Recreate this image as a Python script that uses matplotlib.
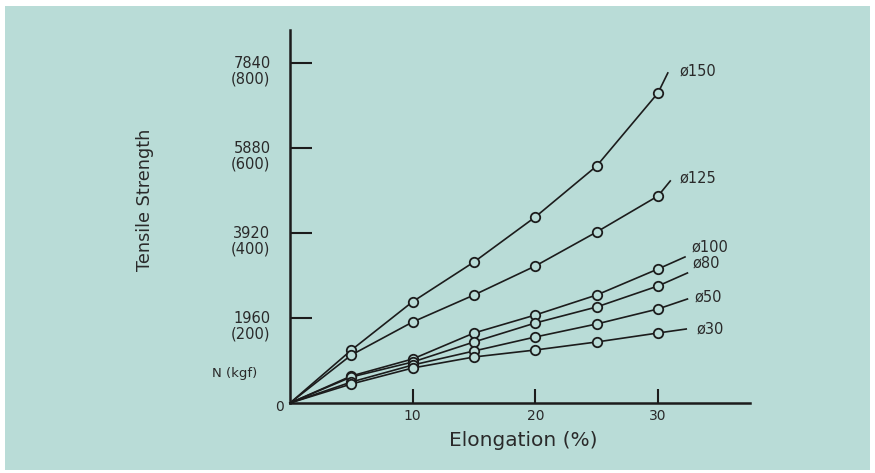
import matplotlib
matplotlib.use('Agg')
import matplotlib.pyplot as plt
from matplotlib.patches import Rectangle
from matplotlib.transforms import ScaledTranslation

# ---- data ----
elongation = [5, 10, 15, 20, 25, 30]          # % where markers sit
series_names = ['ø150', 'ø125', 'ø100', 'ø80', 'ø50', 'ø30']
d150 = [1220, 2336, 3251, 4289, 5465, 7149]
d125 = [1107, 1868, 2490, 3159, 3943, 4773]
d100 = [623, 1015, 1614, 2029, 2490, 3090]
d80 = [600, 945, 1407, 1845, 2214, 2698]
d50 = [484, 876, 1199, 1522, 1822, 2168]
d30 = [438, 807, 1061, 1222, 1407, 1614]
series_values = [d150, d125, d100, d80, d50, d30]
end_elong = [30.8, 31.0, 32.2, 32.4, 32.4, 32.3]   # where each curve stops
end_value = [7610, 5119, 3367, 2998, 2398, 1706]

ytick_vals = [1960, 3920, 5880, 7840]
ytick_labels = ['1960\n(200)', '3920\n(400)', '5880\n(600)', '7840\n(800)']
xtick_vals = [10, 20, 30]
xtick_labels = ['10', '20', '30']

# ---- styling ----
BG = '#b9dcd7'
INK = '#1c1c1c'
TXT = '#2a2a2a'
label_offsets_px = [(12, 2), (9, 3), (7, 10), (5, 10), (7, 2), (10, 0)]

W, H = 875, 473
fig = plt.figure(figsize=(W / 100, H / 100), dpi=100)
fig.patch.set_facecolor('white')
bg = fig.add_axes([0, 0, 1, 1], zorder=-5)
bg.set_xlim(0, W)
bg.set_ylim(H, 0)
bg.axis('off')
bg.add_patch(Rectangle((5, 6), 865, 464, facecolor=BG, edgecolor='none'))

ax = fig.add_axes([290 / W, 1 - 403 / H, 460 / W, 373 / H], zorder=2)
ax.set_facecolor('none')
ax.set_xlim(0, 37.5)
ax.set_ylim(0, 8600)
for s in ['top', 'right']:
    ax.spines[s].set_visible(False)
for s in ['left', 'bottom']:
    ax.spines[s].set_linewidth(1.8)
    ax.spines[s].set_color(INK)

for name, vals, ex, ev, off in zip(series_names, series_values, end_elong,
                                   end_value, label_offsets_px):
    xs = [0] + elongation + [ex]
    ys = [0] + vals + [ev]
    ax.plot(xs, ys, color=INK, lw=1.2, zorder=2, clip_on=False)
    ax.plot(elongation, vals, ls='none', marker='o', ms=6.8, mfc=BG,
            mec=INK, mew=1.3, zorder=3)
    ax.annotate(name, (ex, ev), xytext=off, textcoords='offset pixels',
                ha='left', va='center', fontsize=10.5, color=TXT,
                family='DejaVu Sans')

ax.set_xticks(xtick_vals)
ax.set_xticklabels(xtick_labels)
ax.set_yticks(ytick_vals)
ax.set_yticklabels(ytick_labels, linespacing=1.05)
ax.tick_params(axis='x', direction='in', length=10, width=1.5, pad=4,
               labelsize=10, colors=INK, labelcolor=TXT)
ax.tick_params(axis='y', direction='in', length=16, width=1.5, pad=14,
               labelsize=10.5, colors=INK, labelcolor=TXT)
for lab in ax.get_yticklabels():
    lab.set_va('top')
    lab.set_transform(lab.get_transform() +
                      ScaledTranslation(0, 7 / 100, fig.dpi_scale_trans))

ax.annotate('0', (0, 0), xytext=(-10, -4), textcoords='offset pixels',
            ha='center', va='center', fontsize=10, color=TXT)

fig.text(212 / W, 1 - 373 / H, 'N (kgf)', ha='left', va='center',
         fontsize=9.5, color=TXT)
fig.text(145 / W, 1 - 200 / H, 'Tensile Strength', rotation=90,
         ha='center', va='center', fontsize=12.7, color=TXT)
fig.text(523 / W, 1 - 440 / H, 'Elongation (%)', ha='center', va='center',
         fontsize=14.5, color=TXT)

fig.savefig('out.png', dpi=100, facecolor='white')
